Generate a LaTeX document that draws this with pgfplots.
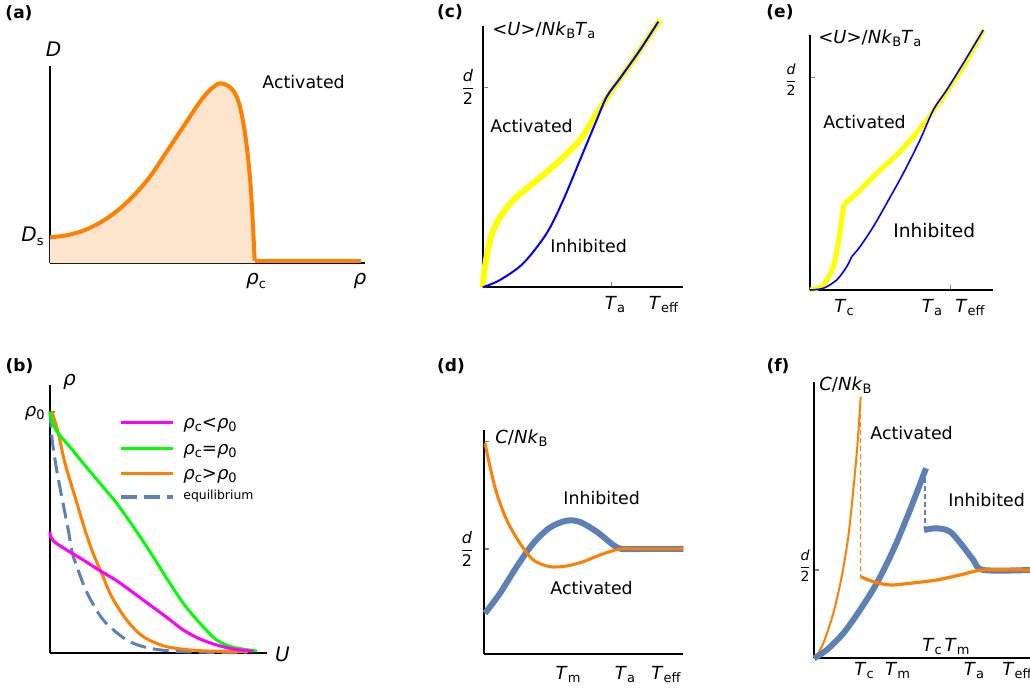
\documentclass[border=0pt]{standalone}
\usepackage{fontspec}
\setmainfont{DejaVu Sans}
\usepackage{amsmath}
\usepackage{pgfplots}
\pgfplotsset{compat=1.18}

\definecolor{morange}{RGB}{255,128,0}
\definecolor{mfill}{RGB}{253,228,204}
\definecolor{mblue}{RGB}{94,129,181}
\definecolor{mmagenta}{RGB}{255,0,255}
\definecolor{mgreen}{RGB}{0,255,0}
\definecolor{myellow}{RGB}{255,255,0}
\definecolor{mpureblue}{RGB}{0,0,255}

\newcommand\sub[1]{\raisebox{-0.3ex}{\fontsize{6.5}{7}\selectfont #1}}
\newcommand\half{$\dfrac{\textit{d}}{\text{2}}$}

% one data unit = one pixel of the 1030x689 reference, y counted downwards as negative
\pgfplotsset{panel/.style={
    x=0.5pt, y=0.5pt,
    axis lines=left,
    axis line style={-, line width=1.2pt, black},
    xtick=\empty, ytick=\empty,
    xticklabels={}, yticklabels={},
    tick style={gray, line width=0.6pt},
    major tick length=2.5pt,
    tick align=inside,
    clip=false,
    anchor=south west}}

% (a) diffusion curve
\pgfplotstableread{
x y
50 -237.3
66.7 -235.3
83.3 -230.7
100 -222.7
116.7 -211.3
133.3 -196
150 -176.7
166.7 -151.7
183.3 -126.7
200 -101.7
210 -90
219.3 -83.3
228.3 -86
235 -93.3
240 -106.7
245 -133.3
248.3 -160
250.7 -186.7
252.3 -213.3
253.7 -240
254.7 -260.7
}\curveA

\begin{document}
\begin{tikzpicture}[font=\fontsize{9}{10}\selectfont]
\useasboundingbox (0,0) rectangle (515pt,-344.5pt);

% panel letters
\begin{scope}[font=\fontsize{8.5}{9}\selectfont\bfseries]
\node at (9.5pt,-6.5pt) {(a)};
\node at (9.75pt,-183pt) {(b)};
\node at (225pt,-6pt) {(c)};
\node at (225.5pt,-183pt) {(d)};
\node at (390pt,-6pt) {(e)};
\node at (389pt,-183pt) {(f)};
\end{scope}

% ---------------- (a)
\begin{axis}[panel, at={(25pt,-131.5pt)}, xmin=50, xmax=365, ymin=-263, ymax=-66, ytick={-237}]
\addplot[fill=mfill, draw=none, smooth] coordinates {
(50,-237.3) (66.7,-235.3) (83.3,-230.7) (100,-222.7) (116.7,-211.3) (133.3,-196) (150,-176.7)
(166.7,-151.7) (183.3,-126.7) (200,-101.7) (210,-90) (219.3,-83.3) (228.3,-86) (235,-93.3)
(240,-106.7) (245,-133.3) (248.3,-160) (250.7,-186.7) (252.3,-213.3) (253.7,-240) (254.7,-260.7)
(254.7,-263) (50,-263)};
\addplot[morange, line width=2pt, smooth] table {\curveA};
\addplot[morange, line width=2pt] coordinates {(254.7,-260.7) (361,-260.7)};
\node[anchor=base] at (axis cs:53.5,-57) {\fontsize{10}{11}\selectfont\textit{D}};
\node[anchor=base east, inner sep=0pt] at (axis cs:44,-242) {\fontsize{10}{11}\selectfont\textit{D}\sub{s}};
\node[anchor=base] at (axis cs:256,-285) {\fontsize{10}{11}\selectfont\textit{ρ}\sub{c}};
\node[anchor=base] at (axis cs:360,-285) {\fontsize{10}{11}\selectfont\textit{ρ}};
\node[anchor=base west, inner sep=0pt] at (axis cs:262,-89) {\fontsize{8.7}{10}\selectfont Activated};
\end{axis}

% ---------------- (b)
\begin{axis}[panel, at={(25pt,-326.5pt)}, xmin=50, xmax=267, ymin=-653, ymax=-385, ytick={-412}]
\addplot[mblue, line width=1.5pt, dash pattern=on 8pt off 3.5pt, smooth] coordinates {
(50,-411.7) (50.5,-420) (51.7,-435) (53.5,-450) (56.7,-470) (61.7,-496.7) (68.3,-530) (72,-551.7)
(77,-567) (87.3,-593.3) (103.3,-620) (126.7,-640) (150,-648.3) (183.3,-651.7) (246.7,-652.7)};
\addplot[morange, line width=1.5pt, smooth] coordinates {
(51.7,-411.7) (54.5,-420) (58.3,-433) (65,-463.3) (75,-496.7) (85,-530) (93,-553)
(101.7,-573.3) (111.7,-596.7) (126.7,-620) (143.3,-636.7) (166.7,-646.7) (200,-650.7) (248.3,-651.7)};
\addplot[mgreen, line width=1.5pt, smooth] coordinates {
(50,-411.7) (52,-421) (56,-430) (62,-438) (70,-447) (83.3,-463.3) (100,-483.3) (116.7,-503.3)
(133.3,-526.7) (150,-551.7) (166.7,-578.3) (183.3,-603.3) (200,-623.3) (216.7,-640)
(233.3,-647.3) (257,-651)};
\addplot[mmagenta, line width=1.5pt, smooth] coordinates {
(50,-531.7) (50.7,-536.7) (55,-542.3) (66.7,-550) (83.3,-560) (100,-570.7) (116.7,-580.7)
(133.3,-592.7) (150,-605) (166.7,-617.3) (183.3,-630) (200,-639) (216.7,-645) (233.3,-649)
(253.3,-651.3)};
% legend
\addplot[mmagenta, line width=1.8pt] coordinates {(121,-422.7) (173,-422.7)};
\addplot[mgreen, line width=1.8pt] coordinates {(121,-448.5) (173,-448.5)};
\addplot[morange, line width=1.8pt] coordinates {(121,-473.5) (173,-473.5)};
\addplot[mblue, line width=1.8pt, dash pattern=on 8pt off 3.5pt] coordinates {(121,-497) (173,-497)};
\node[anchor=base west, inner sep=0pt] at (axis cs:183,-429) {\textit{ρ}\sub{c}<\textit{ρ}\sub{0}};
\node[anchor=base west, inner sep=0pt] at (axis cs:183,-455) {\textit{ρ}\sub{c}=\textit{ρ}\sub{0}};
\node[anchor=base west, inner sep=0pt] at (axis cs:183,-480) {\textit{ρ}\sub{c}>\textit{ρ}\sub{0}};
\node[anchor=base west, inner sep=0pt] at (axis cs:183,-500) {\fontsize{6.2}{7}\selectfont equilibrium};
\node[anchor=base] at (axis cs:69.5,-386) {\fontsize{10}{11}\selectfont\textit{ρ}};
\node[anchor=base east, inner sep=0pt] at (axis cs:45,-417) {\textit{ρ}\sub{0}};
\node[anchor=base] at (axis cs:282.5,-662) {\fontsize{10}{11}\selectfont\textit{U}};
\end{axis}

% ---------------- (c)
\begin{axis}[panel, at={(241.35pt,-143.65pt)}, xmin=482.7, xmax=682.7, ymin=-287.3, ymax=-26, ytick={-87.3}, xtick={611.7}]
\addplot[myellow, line width=3pt, smooth] coordinates {
(482.7,-287.3) (485,-266.7) (490,-240) (498.3,-220) (513.3,-200) (533.3,-183.3) (556.7,-163.3)
(580,-140) (596.7,-113.3) (613.3,-88.3) (633.3,-60) (660,-20)};
\addplot[mpureblue, line width=1pt, smooth] coordinates {
(482.7,-287.3) (500,-280) (523.3,-263.3) (546.7,-233.3) (563.3,-200) (580,-160) (596.7,-120)
(606.7,-96.7) (620,-78.3) (640,-50) (658.3,-21.7)};
\node[anchor=base west, inner sep=0pt] at (axis cs:492,-36) {<\textit{U}>/\textit{Nk}\sub{B}\textit{T}\sub{a}};
\node[font=\fontsize{8}{9}\selectfont, inner sep=0pt] at (axis cs:468,-86.5) {\half};
\node[anchor=base west, inner sep=0pt] at (axis cs:490,-133) {\fontsize{8.7}{10}\selectfont Activated};
\node[anchor=base west, inner sep=0pt] at (axis cs:550,-253) {\fontsize{8.7}{10}\selectfont Inhibited};
\node[anchor=base] at (axis cs:615,-310) {\textit{T}\sub{a}};
\node[anchor=base] at (axis cs:663.5,-310) {\textit{T}\sub{eff}};
\end{axis}

% ---------------- (d)
\begin{axis}[panel, at={(242pt,-327pt)}, xmin=484, xmax=682.7, ymin=-654, ymax=-430, ytick={-549,-441.7}]
\addplot[mblue, line width=3pt, smooth] coordinates {
(485,-613.3) (500,-593.3) (516.7,-566.7) (533.3,-543.3) (550,-527.5) (566.7,-520.7) (580,-522)
(596.7,-531.7) (613.3,-545) (621.7,-549) (640,-549) (683.3,-549)};
\addplot[morange, line width=1.5pt, smooth] coordinates {
(485,-443.3) (490,-466.7) (496.7,-493.3) (506.7,-520) (520,-543.3) (533.3,-560) (550,-566.7)
(566.7,-566) (583.3,-561.7) (600,-555) (620,-549) (640,-549) (683.3,-549)};
\node[anchor=base west, inner sep=0pt] at (axis cs:495,-444) {\textit{C}/\textit{Nk}\sub{B}};
\node[font=\fontsize{8}{9}\selectfont, inner sep=0pt] at (axis cs:467,-549) {\half};
\node[anchor=base west, inner sep=0pt] at (axis cs:563,-505) {\fontsize{8.7}{10}\selectfont Inhibited};
\node[anchor=base west, inner sep=0pt] at (axis cs:550,-595) {\fontsize{8.7}{10}\selectfont Activated};
\node[anchor=base] at (axis cs:568,-680) {\textit{T}\sub{m}};
\node[anchor=base] at (axis cs:625,-680) {\textit{T}\sub{a}};
\node[anchor=base] at (axis cs:666,-680) {\textit{T}\sub{eff}};
\end{axis}

% ---------------- (e)
\begin{axis}[panel, at={(405pt,-145pt)}, xmin=810, xmax=992.7, ymin=-290, ymax=-35, ytick={-77.7}, xtick={950.7}]
\addplot[myellow, line width=2.5pt, smooth, line join=round] coordinates {
(810,-290) (816.7,-288.3) (825,-283.3) (833.3,-266.7) (838.3,-243.3) (841.7,-220) (844,-204)};
\addplot[myellow, line width=2.5pt, smooth, line join=round] coordinates {
(844,-204) (856.7,-193.3) (876.7,-173.3) (896.7,-155) (913.3,-136.7) (926.7,-120) (943.3,-96.7)
(963.3,-66.7) (983.3,-30)};
\addplot[mpureblue, line width=0.8pt, smooth] coordinates {
(810,-290) (823.3,-288.3) (836.7,-280) (846.7,-266.7) (851.7,-256.7)};
\addplot[mpureblue, line width=0.8pt, smooth] coordinates {
(851.7,-256.7) (860,-246.7) (873.3,-226.7) (886.7,-203.3) (903.3,-173.3) (920,-140) (933.3,-110)
(946.7,-90) (963.3,-63.3) (983.3,-30)};
\node[anchor=base west, inner sep=0pt] at (axis cs:818,-44) {<\textit{U}>/\textit{Nk}\sub{B}\textit{T}\sub{a}};
\node[font=\fontsize{7}{8}\selectfont, inner sep=0pt] at (axis cs:791,-80) {\half};
\node[anchor=base west, inner sep=0pt] at (axis cs:823,-129) {\fontsize{8.7}{10}\selectfont Activated};
\node[anchor=base west, inner sep=0pt] at (axis cs:893,-238) {\fontsize{9.3}{10}\selectfont Inhibited};
\node[anchor=base] at (axis cs:844,-313) {\textit{T}\sub{c}};
\node[anchor=base] at (axis cs:932,-313) {\textit{T}\sub{a}};
\node[anchor=base] at (axis cs:970,-313) {\textit{T}\sub{eff}};
\end{axis}

% ---------------- (f)
\begin{axis}[panel, at={(407pt,-329.15pt)}, xmin=814, xmax=1030, ymin=-658.3, ymax=-382.3, ytick={-570}]
\addplot[morange, line width=1pt, smooth] coordinates {
(815,-658.3) (823.3,-643.3) (833.3,-613.3) (841.7,-576.7) (848.3,-536.7) (853.3,-490)
(857.3,-446.7) (860.7,-396.7)};
\addplot[morange, line width=0.6pt, dash pattern=on 2.5pt off 1.5pt] coordinates {(860.7,-398) (860.7,-576.7)};
\addplot[mblue, line width=3pt, smooth] coordinates {
(814,-658.3) (826.7,-650) (843.3,-633.3) (860,-610) (876.7,-583.3) (893.3,-550) (910,-510) (926,-468.3)};
\addplot[mblue, line width=0.8pt, dash pattern=on 2.5pt off 1.5pt] coordinates {(925,-470) (925,-530)};
\addplot[mblue, line width=3pt, smooth] coordinates {
(924,-530) (936.7,-528.3) (950,-531.7) (963.3,-546.7) (973.3,-560) (983.3,-570) (1030,-570)};
\addplot[morange, line width=1.6pt, smooth] coordinates {
(860.7,-576.7) (873.3,-581.7) (890,-585) (910,-583.3) (936.7,-580) (960,-575) (983.3,-570) (1030,-570)};
\node[anchor=base west, inner sep=0pt] at (axis cs:819,-391) {\textit{C}/\textit{Nk}\sub{B}};
\node[font=\fontsize{7}{8}\selectfont, inner sep=0pt] at (axis cs:805,-566) {\half};
\node[anchor=base west, inner sep=0pt] at (axis cs:870,-440) {\fontsize{8.7}{10}\selectfont Activated};
\node[anchor=base west, inner sep=0pt] at (axis cs:948,-507) {\fontsize{8.7}{10}\selectfont Inhibited};
\node[anchor=base west, inner sep=0pt] at (axis cs:922,-652) {\textit{T}\sub{c}\,\textit{T}\sub{m}};
\node[anchor=base] at (axis cs:864,-676) {\textit{T}\sub{c}};
\node[anchor=base] at (axis cs:897.5,-676) {\textit{T}\sub{m}};
\node[anchor=base] at (axis cs:974,-676) {\textit{T}\sub{a}};
\node[anchor=base west, inner sep=0pt] at (axis cs:1002,-676) {\textit{T}\sub{eff}};
\end{axis}
\end{tikzpicture}
\end{document}
